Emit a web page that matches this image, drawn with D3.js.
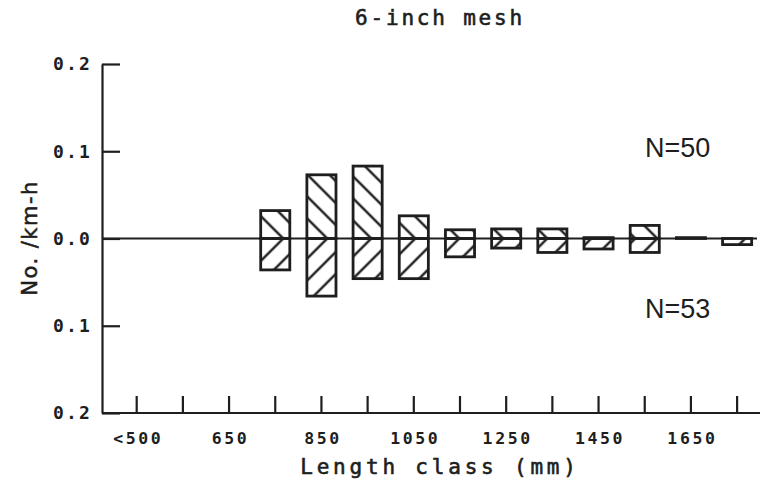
<!DOCTYPE html>
<html>
<head>
<meta charset="utf-8">
<script src="https://cdn.jsdelivr.net/npm/d3@7"></script>
<style>
  body { margin: 0; background: #fff; }
  svg { display: block; }
</style>
</head>
<body>
<svg id="chart" width="770" height="485"></svg>
<script>
// length classes along the bottom, only every other one gets a label
var categories = ["<500", "550", "650", "750", "850", "950", "1050", "1150",
                  "1250", "1350", "1450", "1550", "1650", "1750"];
var tickLabels = ["<500", "", "650", "", "850", "", "1050", "",
                  "1250", "", "1450", "", "1650", ""];
// catch rates, upper half (N=50) and lower half (N=53)
var upper = [0, 0, 0, 0.032, 0.073, 0.083, 0.026, 0.010, 0.011, 0.011, 0.001, 0.015, 0.001, 0];
var lower = [0, 0, 0, 0.036, 0.066, 0.046, 0.046, 0.021, 0.011, 0.016, 0.012, 0.016, 0, 0.007];
var yTicks = [0.2, 0.1, 0, -0.1, -0.2];

var ink = "#1e1e1e";
var svg = d3.select("svg"),
    width = +svg.attr("width"),
    height = +svg.attr("height");

var x = d3.scaleBand()
    .domain(categories)
    .range([113.6, 760.2])
    .paddingInner(0.37)
    .paddingOuter(0.185);

var y = d3.scaleLinear()
    .domain([-0.2, 0.2])
    .range([413, 64]);

var axisX = 102, axisEnd = 760;

// hatch patterns, mirrored about the zero line
var defs = svg.append("defs");
var hatch = 22;
var anchorX = x("750") + x.bandwidth() / 2 + 8;

defs.append("pattern")
    .attr("id", "hatchUp")
    .attr("patternUnits", "userSpaceOnUse")
    .attr("x", anchorX).attr("y", y(0))
    .attr("width", hatch).attr("height", hatch)
  .append("path")
    .attr("d", "M0,0L22,22 M-11,11L11,33 M11,-11L33,11")
    .attr("stroke", ink).attr("stroke-width", 2.4).attr("fill", "none");

defs.append("pattern")
    .attr("id", "hatchDown")
    .attr("patternUnits", "userSpaceOnUse")
    .attr("x", anchorX).attr("y", y(0))
    .attr("width", hatch).attr("height", hatch)
  .append("path")
    .attr("d", "M0,22L22,0 M-11,11L11,-11 M11,33L33,11")
    .attr("stroke", ink).attr("stroke-width", 2.4).attr("fill", "none");

// bars above zero
svg.append("g").selectAll("rect")
    .data(categories.map(function(c, i) { return {cat: c, v: upper[i]}; })
        .filter(function(d) { return d.v > 0; }))
    .enter().append("rect")
    .attr("x", function(d) { return x(d.cat); })
    .attr("y", function(d) { return y(d.v); })
    .attr("width", x.bandwidth())
    .attr("height", function(d) { return y(0) - y(d.v); })
    .attr("fill", "url(#hatchUp)")
    .attr("stroke", ink)
    .attr("stroke-width", 2.8);

// bars below zero
svg.append("g").selectAll("rect")
    .data(categories.map(function(c, i) { return {cat: c, v: lower[i]}; })
        .filter(function(d) { return d.v > 0; }))
    .enter().append("rect")
    .attr("x", function(d) { return x(d.cat); })
    .attr("y", y(0))
    .attr("width", x.bandwidth())
    .attr("height", function(d) { return y(-d.v) - y(0); })
    .attr("fill", "url(#hatchDown)")
    .attr("stroke", ink)
    .attr("stroke-width", 2.8);

// zero line
svg.append("line")
    .attr("x1", axisX).attr("x2", axisEnd - 3)
    .attr("y1", y(0)).attr("y2", y(0))
    .attr("stroke", ink).attr("stroke-width", 2);

// y axis
var gy = svg.append("g")
    .attr("transform", "translate(" + axisX + ",0)")
    .call(d3.axisLeft(y)
        .tickValues(yTicks)
        .tickSize(-18)
        .tickSizeOuter(0)
        .tickPadding(10)
        .tickFormat(function(d) { return Math.abs(d).toFixed(1); }));
gy.select(".domain").attr("stroke", ink).attr("stroke-width", 2.2);
gy.selectAll(".tick line").attr("stroke", ink).attr("stroke-width", 2.2);
gy.selectAll(".tick text")
    .attr("fill", ink)
    .style("font-family", "'DejaVu Sans Mono', monospace")
    .style("font-size", "18px")
    .style("font-weight", "bold")
    .style("letter-spacing", "2.2px");

// x axis
var gx = svg.append("g")
    .attr("transform", "translate(0," + y(-0.2) + ")")
    .call(d3.axisBottom(x)
        .tickSize(-17)
        .tickSizeOuter(0)
        .tickPadding(19)
        .tickFormat(function(d, i) { return tickLabels[i]; }));
gx.select(".domain").remove();
gx.selectAll(".tick line").attr("stroke", ink).attr("stroke-width", 2.2);
gx.selectAll(".tick text")
    .attr("fill", ink)
    .attr("dx", "1.5px")
    .style("font-family", "'DejaVu Sans Mono', monospace")
    .style("font-size", "16.5px")
    .style("font-weight", "bold")
    .style("letter-spacing", "2.6px");

svg.append("line")
    .attr("x1", axisX).attr("x2", axisEnd)
    .attr("y1", y(-0.2)).attr("y2", y(-0.2))
    .attr("stroke", ink).attr("stroke-width", 2.2);

// titles
svg.append("text")
    .attr("x", 440).attr("y", 25)
    .attr("text-anchor", "middle")
    .attr("fill", ink)
    .attr("stroke", ink).attr("stroke-width", 0.6)
    .style("font-family", "'DejaVu Sans Mono', monospace")
    .style("font-size", "21px")
    .style("letter-spacing", "2.8px")
    .text("6-inch mesh");

svg.append("text")
    .attr("x", 440).attr("y", 474)
    .attr("text-anchor", "middle")
    .attr("fill", ink)
    .attr("stroke", ink).attr("stroke-width", 0.6)
    .style("font-family", "'DejaVu Sans Mono', monospace")
    .style("font-size", "21px")
    .style("letter-spacing", "3.8px")
    .text("Length class (mm)");

svg.append("text")
    .attr("transform", "translate(37,238) rotate(-90)")
    .attr("text-anchor", "middle")
    .attr("fill", ink)
    .attr("stroke", ink).attr("stroke-width", 0.5)
    .style("font-family", "'DejaVu Sans', sans-serif")
    .style("font-size", "21px")
    .style("letter-spacing", "1.5px")
    .text("No. /km-h");

svg.append("text")
    .attr("x", 645).attr("y", 157)
    .attr("fill", ink)
    .style("font-family", "'Liberation Sans', sans-serif")
    .style("font-size", "27px")
    .text("N=50");

svg.append("text")
    .attr("x", 645).attr("y", 318)
    .attr("fill", ink)
    .style("font-family", "'Liberation Sans', sans-serif")
    .style("font-size", "27px")
    .text("N=53");
</script>
</body>
</html>
